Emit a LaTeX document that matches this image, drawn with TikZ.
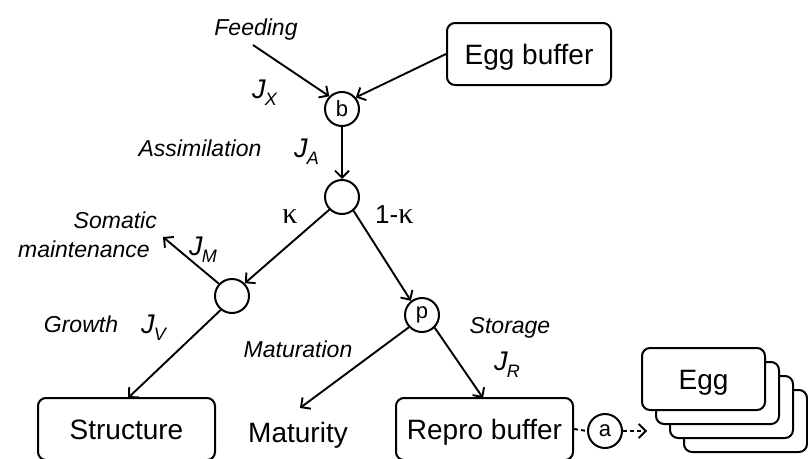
\documentclass[tikz,border=0pt]{standalone}
\usepackage{fontspec}
\setmainfont{Liberation Sans}
\newfontfamily\serifk{Liberation Serif}
\usetikzlibrary{arrows.meta}
\newcommand\fsz[1]{\fontsize{#1}{#1}\selectfont}
\newcommand\flux[2]{\textit{#1}\kern-1pt\raisebox{-7pt}{\fsz{18}\textit{#2}}}
\begin{document}
\begin{tikzpicture}[x=1pt,y=-1pt,
  box/.style={draw, line width=2pt, rounded corners=8pt, minimum height=62pt,
    inner sep=0pt, font=\fsz{28}, text height=20pt, text depth=0pt},
  pool/.style={circle, draw, line width=2pt, minimum size=34pt, inner sep=0pt, font=\fsz{22}},
  flow/.style={line width=1.9pt, -{Straight Barb[length=7pt,width=14pt,line width=1.9pt]}},
  lab/.style={font=\fsz{23}\itshape, inner sep=0pt, anchor=base},
  jlab/.style={font=\fsz{27}, inner sep=0pt, anchor=base west},
  shortdash/.style={dash pattern=on 4pt off 3pt}
  ]
\useasboundingbox (0,0) rectangle (808,458);

% pools
\node[pool] (b) at (342,109) {b};
\node[pool] (c) at (342,197) {};
\node[pool] (g) at (232,296) {};
\node[pool] (p) at (422,315) {\smash{\raisebox{-3pt}{p}}};
\node[pool] (a) at (605,431) {a};

% boxes
\node[box, minimum width=164pt] (eggbuf) at (529,54) {Egg buffer};
\node[box, minimum width=177pt] (struct) at (126.5,429) {Structure};
\node[box, minimum width=177pt] (repro) at (484.5,429) {Repro buffer};
\node[font=\fsz{28}, anchor=base, inner sep=0pt] (matur) at (298,442) {Maturity};

\foreach \i in {3,2,1}
  \node[box, fill=white, minimum width=123pt] (egg\i) at (703.5+14*\i,379+14*\i) {};
\node[box, fill=white, minimum width=123pt] (egg) at (703.5,379) {Egg};

% free ends
\coordinate (feed) at (253,45);
\coordinate (soma) at (163,237);
\coordinate (matend) at (300,408);
\coordinate (eggin) at (647,431);

% connectors
\draw[flow] (feed) -- (b.135);
\draw[flow] (eggbuf.west) -- (b.40);
\draw[flow] (b.south) -- (c.north);
\draw[flow] (c.-135) -- (g.45);
\draw[flow] (c.-50) -- (p.128);
\draw[flow] (g.137) -- (soma);
\draw[flow] (g.-129) -- (128,398);
\draw[flow] (p.-137) -- (matend);
\draw[flow] (p.-45) -- (483,398);
\draw[line width=1.9pt, shortdash] (repro.east) -- (a.west);
\draw[flow, shortdash] (a.east) -- (eggin);

% labels
\node[lab] (lfeed) at (256,35) {Feeding};
\node[jlab] (ljx) at (252,98) {\flux{J}{X}};
\node[lab] (lassim) at (200,156) {Assimilation};
\node[jlab] (lja) at (294,157) {\flux{J}{A}};
\node[font=\fsz{30}\serifk, inner sep=0pt, anchor=base] (lk) at (290,223) {κ};
\node[font=\fsz{26}, inner sep=0pt, anchor=base west] (l1k) at (375,223) {1-{\serifk\fsz{30}κ}};
\node[lab, anchor=base east] (lsom) at (157,228) {Somatic};
\node[lab, anchor=base east] (lmaint) at (150,257) {maintenance};
\node[jlab] (ljm) at (189,255) {\flux{J}{M}};
\node[lab] (lgrow) at (81,332) {Growth};
\node[jlab] (ljv) at (141,333) {\flux{J}{V}};
\node[lab] (lmat) at (298,357) {Maturation};
\node[lab] (lstor) at (510,333) {Storage};
\node[jlab] (ljr) at (494,370) {\flux{J}{R}};
\end{tikzpicture}
\end{document}
